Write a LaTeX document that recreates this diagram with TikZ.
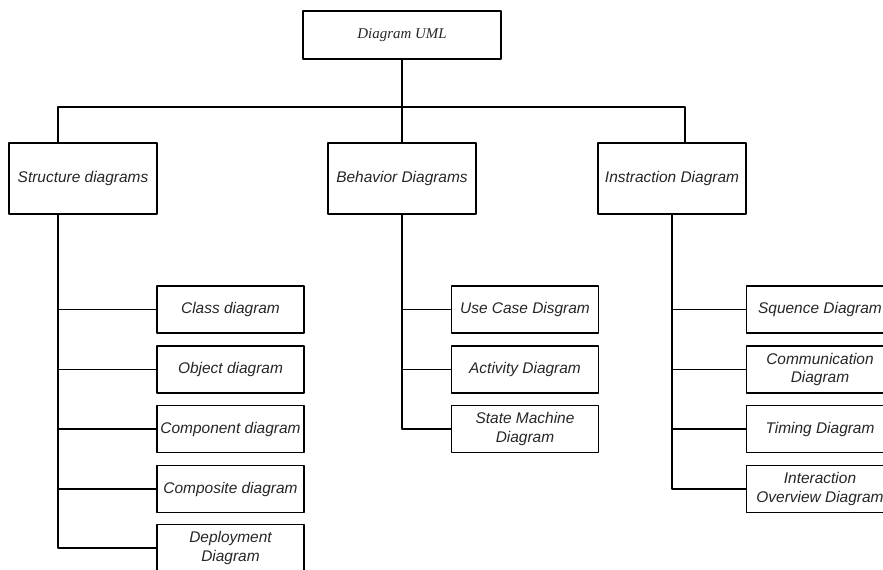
\documentclass[tikz,border=0pt]{standalone}
\usepackage{fontspec}
\setmainfont{Liberation Serif}
\setsansfont{Liberation Sans}
\begin{document}
\begin{tikzpicture}[x=0.02cm, y=-0.02cm, line join=round, line width=0.6pt,
    box/.style={draw, fill=white, align=center, text=black!85, inner sep=1pt,
        font=\fontsize{8.8}{10.4}\selectfont\sffamily\itshape},
    head/.style={box, minimum width=2.96cm, minimum height=1.42cm},
    leaf/.style={box, minimum width=2.94cm, minimum height=0.94cm}]
                \useasboundingbox (0,0) rectangle (883,569);
                \clip (0,0) rectangle (883,569);
                \node[box, minimum width=3.96cm, minimum height=0.96cm,
                    font=\fontsize{8.5}{10}\selectfont\rmfamily\itshape] (UML) at (402,35) {Diagram UML};
                \node[head] (S) at (83,178.5) {Structure diagrams};
                \node[head] (B) at (402,178.5) {Behavior Diagrams};
                \node[head] (I) at (672,178.5) {Instraction Diagram};
                \foreach \i/\y/\t in {S1/309.5/Class diagram, S2/369.5/Object diagram,
                    S3/429/Component diagram, S4/489/Composite diagram, S5/548/{Deployment\\Diagram}}
                \node[leaf] (\i) at (230.5,\y) {\t};
                \foreach \i/\y/\t in {B1/309.5/Use Case Disgram, B2/369.5/Activity Diagram,
                    B3/429/{State Machine\\Diagram}}
                \node[leaf] (\i) at (525,\y) {\t};
                \foreach \i/\y/\t in {I1/309.5/Squence Diagram, I2/369.5/{Communication\\Diagram},
                    I3/429/Timing Diagram, I4/489/{Interaction\\Overview Diagram}}
                \node[leaf] (\i) at (820,\y) {\t};
                \coordinate (L) at (58,107);
                \coordinate (R) at (685,107);
                \draw (UML) -- (B);
                \draw (L |- S.north) -- (L) -- (R) -- (R |- I.north);
                \draw (L |- S.south) -- (L |- S5.west) -- (S5.west);
                \draw (B.south) -- (B.south |- B3.west) -- (B3.west);
                \draw (I.south) -- (I.south |- I4.west) -- (I4.west);
                \foreach \i in {S1,S2,S3,S4}
                \draw (L |- \i.west) -- (\i.west);
                \foreach \i in {B1,B2}
                \draw (B.south |- \i.west) -- (\i.west);
                \foreach \i in {I1,I2,I3}
                \draw (I.south |- \i.west) -- (\i.west);
            \end{tikzpicture}
\end{document}
